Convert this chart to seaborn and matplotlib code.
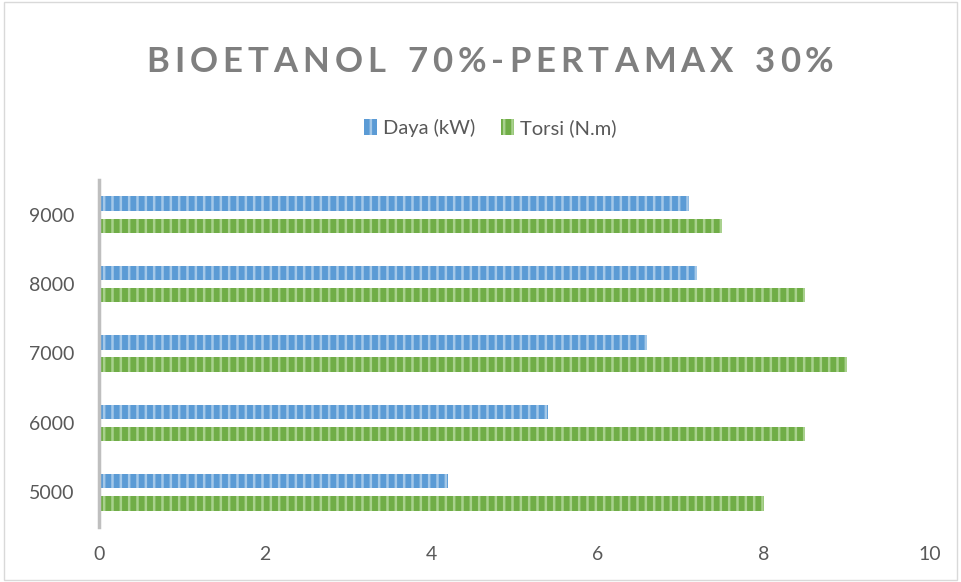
import pandas as pd
import matplotlib.pyplot as plt
import seaborn as sns
from matplotlib.patches import Rectangle

# data
rpm = ["9000", "8000", "7000", "6000", "5000"]
daya = [7.1, 7.2, 6.6, 5.4, 4.2]
torsi = [7.5, 8.5, 9.0, 8.5, 8.0]
series = ["Daya (kW)", "Torsi (N.m)"]
x_ticks = [0, 2, 4, 6, 8, 10]
title = "BIOETANOL 70%-PERTAMAX 30%"

df = pd.DataFrame({"rpm": rpm * 2,
                   "value": daya + torsi,
                   "series": [series[0]] * len(rpm) + [series[1]] * len(rpm)})

sns.set_style("white")
plt.rcParams['font.family'] = ['Lato', 'DejaVu Sans']
plt.rcParams['hatch.linewidth'] = 1.8

fig = plt.figure(figsize=(9.61, 5.82), dpi=100)
ax = fig.add_axes([99 / 961, 1 - 527 / 582, 831 / 961, 347 / 582])

colors = ["#5b9bd5", "#70ad47"]
light = ["#a4c8e8", "#a9d18e"]
sns.barplot(data=df, y="rpm", x="value", hue="series", order=rpm,
            palette=colors, orient="h", width=0.64, gap=0.36, ax=ax,
            legend=True, saturation=1)

for container, lc in zip(ax.containers, light):
    for bar in container:
        bar.set_hatch("||")
        bar.set_edgecolor(lc)
        bar.set_linewidth(0)

ax.set_xlim(0, 10)
ax.set_ylim(4.5, -0.5)
ax.set_xticks(x_ticks)
ax.set_xlabel("")
ax.set_ylabel("")
ax.tick_params(axis="both", length=0, labelsize=14, labelcolor="#595959")
ax.tick_params(axis="x", pad=14)
ax.tick_params(axis="y", pad=18)
for s in ["top", "right", "bottom"]:
    ax.spines[s].set_visible(False)
ax.spines["left"].set_color("#bfbfbf")
ax.spines["left"].set_linewidth(2.5)

handles, labels = ax.get_legend_handles_labels()
leg = ax.legend(handles, labels, loc="center", bbox_to_anchor=(0.51, 1 - 128 / 582),
                bbox_transform=fig.transFigure, ncol=2, frameon=False,
                fontsize=14.5, labelcolor="#595959", handlelength=0.65,
                handleheight=0.85, columnspacing=1.3, handletextpad=0.3)
for h, lc in zip(leg.legend_handles, light):
    h.set_hatch("||")
    h.set_edgecolor(lc)
    h.set_linewidth(0)

# title with wide letter spacing, one character at a time
renderer = fig.canvas.get_renderer()
spacing = 5.0
widths = []
for ch in title:
    t = fig.text(0, 0, ch if ch != " " else "-", fontsize=25, fontweight="bold")
    w = t.get_window_extent(renderer).width
    if ch == " ":
        w *= 0.9
    widths.append(w)
    t.remove()
total = sum(widths) + spacing * (len(title) - 1)
x = 490 - total / 2
for ch, w in zip(title, widths):
    fig.text(x / 961, 1 - 62 / 582, ch, ha="left", va="center", fontsize=25,
             fontweight="bold", color="#7f7f7f")
    x += w + spacing

fig.patches.append(Rectangle((0.004, 0.004), 0.992, 0.992, transform=fig.transFigure,
                             fill=False, edgecolor="#d9d9d9", linewidth=1))

plt.savefig("out.png", dpi=100)
